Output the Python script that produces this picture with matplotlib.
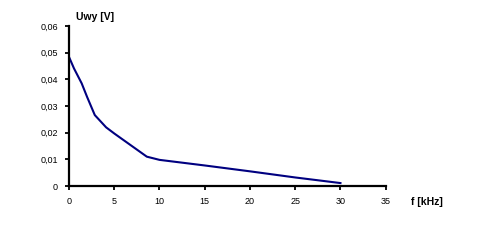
import matplotlib
matplotlib.use("Agg")
import matplotlib.pyplot as plt

freq_khz = [0, 0.55, 1.4, 2.0, 2.85, 4.1, 5, 8.6, 10, 15, 20, 25, 30]
u_out_v = [0.0484, 0.0441, 0.0385, 0.0334, 0.0266, 0.0220, 0.0197, 0.0110, 0.0098, 0.0077, 0.0055, 0.0032, 0.0011]
x_ticks = [0, 5, 10, 15, 20, 25, 30, 35]
y_ticks = [0, 0.01, 0.02, 0.03, 0.04, 0.05, 0.06]
y_tick_labels = ["0", "0,01", "0,02", "0,03", "0,04", "0,05", "0,06"]

plt.rcParams['font.family'] = ['Liberation Sans', 'DejaVu Sans']

fig = plt.figure(figsize=(4.82, 2.52), dpi=100)
ax = fig.add_axes([69/482, 1 - 186/252, (385.7-69)/482, (186-26)/252])
ax.plot(freq_khz, u_out_v, color='#000080', lw=1.5)
ax.set_xlim(0, 35)
ax.set_ylim(0, 0.06)
ax.set_xticks(x_ticks)
ax.set_xticklabels([str(t) for t in x_ticks])
ax.set_yticks(y_ticks)
ax.set_yticklabels(y_tick_labels)
for s in ['top', 'right']:
    ax.spines[s].set_visible(False)
for s in ['left', 'bottom']:
    ax.spines[s].set_linewidth(1.6)
ax.tick_params(axis='both', direction='out', length=3, width=1.3, labelsize=6.5, pad=5, colors='black')
ax.patch.set_alpha(0)
fig.text(76/482, 1 - 16.5/252, "Uwy [V]", fontsize=7.5, fontweight='bold', va='center', ha='left')
fig.text(411/482, 1 - 202/252, "f [kHz]", fontsize=7.5, fontweight='bold', va='center', ha='left')
fig.savefig("out.png", dpi=100)
